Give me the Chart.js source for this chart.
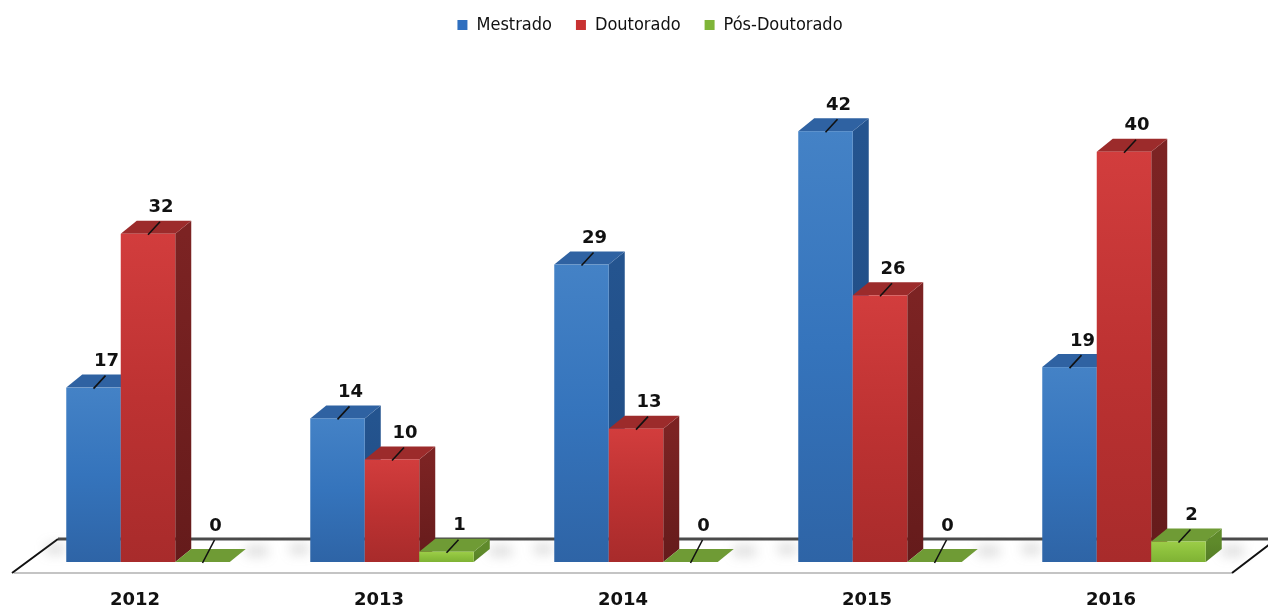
<!DOCTYPE html>
<html>
<head>
<meta charset="utf-8">
<script src="https://cdn.jsdelivr.net/npm/chart.js@4/dist/chart.umd.min.js"></script>
<style>
  html, body { margin: 0; padding: 0; background: #fff; }
  #wrap { width: 1268px; height: 609px; }
</style>
</head>
<body>
<div id="wrap"><canvas id="chart"></canvas></div>
<script>
// data
const years = ['2012', '2013', '2014', '2015', '2016'];
const mestrado = [17, 14, 29, 42, 19];
const doutorado = [32, 10, 13, 26, 40];
const posDoutorado = [0, 1, 0, 0, 2];
const seriesNames = ['Mestrado', 'Doutorado', 'Pós-Doutorado'];

// colours per series: front gradient (top, mid, bottom), side, top face
const faces = [
  { front: ['#4482c6', '#3574bc', '#2e64a6'], side: ['#24548f', '#1f4a80'], top: '#2f62a2', legend: '#2f6fbf' },
  { front: ['#d23d3d', '#bd3232', '#a82b2b'], side: ['#7c2323', '#651b1b'], top: '#9c2b2b', legend: '#c83232' },
  { front: ['#9ccd48', '#8cc03c', '#7fb234'], side: ['#5f8a2b', '#557d26'], top: '#6f9b35', legend: '#7fb539' }
];

const depthX = 16, depthY = 13;

const bars3d = {
  id: 'bars3d',
  afterLayout(chart) {
    // the legend sits a little right of centre in the original
    chart.legend.left += 14;
    chart.legend.right += 14;
  },
  beforeDatasetsDraw(chart) {
    const { ctx, chartArea } = chart;
    const base = chart.scales.y.getPixelForValue(0);
    const l = chartArea.left, r = chartArea.right;
    // floor
    ctx.save();
    ctx.beginPath();
    ctx.moveTo(l - 14, base + 11);
    ctx.lineTo(r - 14, base + 11);
    ctx.lineTo(r + 24, base - 18);
    ctx.lineTo(r + 24, base - 23);
    ctx.lineTo(l + 32, base - 23);
    ctx.closePath();
    ctx.fillStyle = '#ffffff';
    ctx.fill();
    ctx.strokeStyle = '#c4c4c4';
    ctx.lineWidth = 2;
    ctx.beginPath();
    ctx.moveTo(l - 12, base + 11);
    ctx.lineTo(r - 14, base + 11);
    ctx.stroke();
    ctx.strokeStyle = '#4a4a4a';
    ctx.lineWidth = 3;
    ctx.beginPath();
    ctx.moveTo(l + 32, base - 23);
    ctx.lineTo(r + 30, base - 23);
    ctx.stroke();
    ctx.strokeStyle = '#111';
    ctx.lineWidth = 2;
    ctx.beginPath();
    ctx.moveTo(l - 14, base + 11);
    ctx.lineTo(l + 32, base - 23);
    ctx.moveTo(r - 14, base + 11);
    ctx.lineTo(r + 24, base - 18);
    ctx.stroke();

    // soft shadows on the floor around each group
    ctx.filter = 'blur(6px)';
    ctx.fillStyle = 'rgba(110,110,110,0.25)';
    const metas = chart.data.datasets.map((d, i) => chart.getDatasetMeta(i));
    years.forEach((y, j) => {
      const first = metas[0].data[j], last = metas[metas.length - 1].data[j];
      const x0 = first.x - first.width / 2, x1 = last.x + last.width / 2;
      ctx.fillRect(x0 - 20, base - 18, 18, 10);
      ctx.fillRect(x1 + depthX, base - 16, 22, 10);
    });
    ctx.filter = 'none';

    // bars, left to right
    years.forEach((y, j) => {
      metas.forEach((meta, i) => {
        const bar = meta.data[j];
        const f = faces[i];
        const x0 = bar.x - bar.width / 2, x1 = bar.x + bar.width / 2;
        const top = bar.y, b = bar.base;
        // side
        const sg = ctx.createLinearGradient(0, top, 0, b);
        sg.addColorStop(0, f.side[0]);
        sg.addColorStop(1, f.side[1]);
        ctx.fillStyle = sg;
        ctx.beginPath();
        ctx.moveTo(x1, b);
        ctx.lineTo(x1, top);
        ctx.lineTo(x1 + depthX, top - depthY);
        ctx.lineTo(x1 + depthX, b - depthY);
        ctx.closePath();
        ctx.fill();
        // top
        ctx.fillStyle = f.top;
        ctx.beginPath();
        ctx.moveTo(x0, top);
        ctx.lineTo(x1, top);
        ctx.lineTo(x1 + depthX, top - depthY);
        ctx.lineTo(x0 + depthX, top - depthY);
        ctx.closePath();
        ctx.fill();
        // front
        if (b - top > 0.5) {
          const fg = ctx.createLinearGradient(0, top, 0, b);
          fg.addColorStop(0, f.front[0]);
          fg.addColorStop(0.5, f.front[1]);
          fg.addColorStop(1, f.front[2]);
          ctx.fillStyle = fg;
          ctx.fillRect(x0, top, x1 - x0, b - top);
        }
      });
    });
    ctx.restore();
    return false;
  },
  afterDraw(chart) {
    const { ctx } = chart;
    ctx.save();
    ctx.font = 'bold 18px "DejaVu Sans"';
    ctx.fillStyle = '#111';
    ctx.strokeStyle = '#111';
    ctx.lineWidth = 1.6;
    ctx.textAlign = 'center';
    ctx.textBaseline = 'middle';
    chart.data.datasets.forEach((ds, i) => {
      chart.getDatasetMeta(i).data.forEach((bar, j) => {
        const v = ds.data[j];
        const off = v === 0 ? 36 : 26;
        const cx = bar.x, top = bar.y;
        ctx.beginPath();
        ctx.moveTo(cx + 12, top - off + 14);
        ctx.lineTo(cx, top + 1);
        ctx.stroke();
        ctx.fillText(String(v), cx + 13, top - off);
      });
    });
    ctx.restore();
  }
};

new Chart(document.getElementById('chart'), {
  type: 'bar',
  data: {
    labels: years,
    datasets: [mestrado, doutorado, posDoutorado].map((vals, i) => ({
      label: seriesNames[i],
      data: vals,
      backgroundColor: faces[i].legend,
      borderWidth: 0,
      barPercentage: 1,
      categoryPercentage: 0.67
    }))
  },
  options: {
    responsive: true,
    maintainAspectRatio: false,
    animation: false,
    layout: { padding: { top: -8, left: 26, right: 22, bottom: 0 } },
    plugins: {
      legend: {
        position: 'top',
        labels: {
          boxWidth: 10,
          boxHeight: 10,
          padding: 24,
          color: '#111',
          font: { family: '"DejaVu Sans Condensed"', size: 18 }
        }
      },
      tooltip: { enabled: false }
    },
    scales: {
      x: {
        grid: { display: false, drawTicks: false },
        border: { display: false },
        afterFit(scale) { scale.height = 47; },
        ticks: {
          color: '#111',
          padding: 28,
          labelOffset: -13,
          maxRotation: 0,
          font: { family: '"DejaVu Sans"', size: 18, weight: 'bold' }
        }
      },
      y: {
        display: false,
        min: 0,
        max: 50.5
      }
    }
  },
  plugins: [bars3d]
});
</script>
</body>
</html>
